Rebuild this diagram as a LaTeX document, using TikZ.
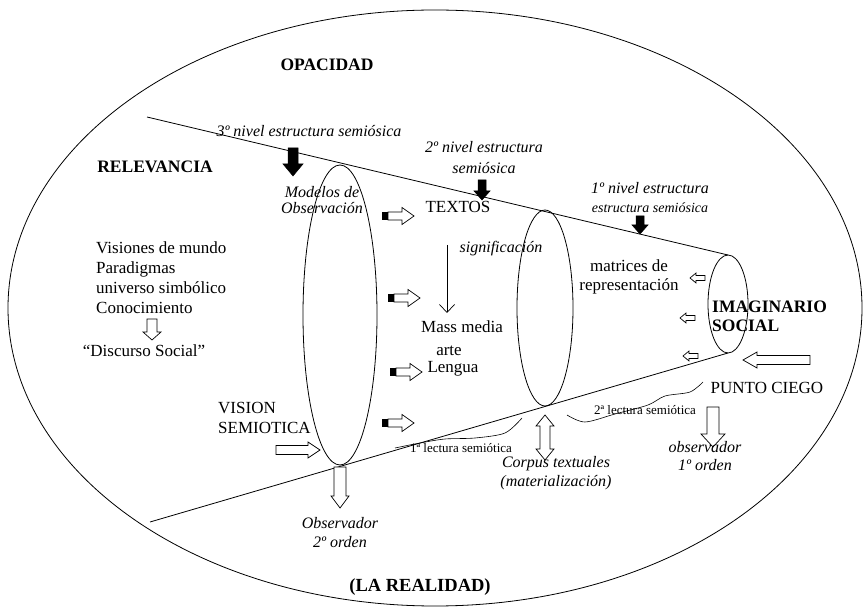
\documentclass[tikz,border=0pt]{standalone}
\usepackage{fontspec}
\setmainfont{Liberation Serif}
\usetikzlibrary{arrows.meta}
\begin{document}
\begin{tikzpicture}[x=1pt,y=-1pt,
  thinline/.style={line width=0.8pt},
  reg/.style={font=\fontsize{17}{20}\selectfont, inner sep=0pt},
  bld/.style={font=\bfseries\fontsize{17.5}{19}\selectfont, inner sep=0pt},
  ita/.style={font=\itshape\fontsize{16}{19}\selectfont, inner sep=0pt},
  sml/.style={font=\fontsize{13}{15}\selectfont, inner sep=0pt},
  whitearrow/.style={draw, fill=white, line width=0.7pt},
  blackarrow/.style={draw, fill=black, line width=0.5pt},
  pics/barrow/.style n args={4}{code={
    \path[pic actions] (0,-#2) -- ({#1-#4},-#2) -- ({#1-#4},-#3) -- (#1,0)
      -- ({#1-#4},#3) -- ({#1-#4},#2) -- (0,#2) -- cycle;}},
  pics/dbarrow/.style n args={4}{code={
    \path[pic actions] (0,0) -- (#4,-#3) -- (#4,-#2) -- ({#1-#4},-#2) -- ({#1-#4},-#3)
      -- (#1,0) -- ({#1-#4},#3) -- ({#1-#4},#2) -- (#4,#2) -- (#4,#3) -- cycle;}},
  pics/sarrow/.style={code={
    \fill[black] (0,-3.8) rectangle (6,3.8);
    \draw[whitearrow] (6,-4) -- (20,-4) -- (20,-8.5) -- (32,0) -- (20,8.5) -- (20,4) -- (6,4) -- cycle;}}
]
\useasboundingbox (0,0) rectangle (863,609);

% outer ellipse
\draw[thinline] (435,308) ellipse [x radius=427, y radius=298];

% cone
\coordinate (ul) at (147,117);
\coordinate (ur) at (728,255);
\coordinate (ll) at (150,522);
\coordinate (lr) at (728,353);
\draw[thinline] (ul) -- (ur);
\draw[thinline] (ll) -- (lr);
\draw[thinline] (340,315) ellipse [x radius=37, y radius=150];
\draw[thinline] (545,308) ellipse [x radius=28, y radius=98];
\draw[thinline] (728,304) ellipse [x radius=20, y radius=49];

% black arrows
\pic[blackarrow, rotate=-90] at (293,148) {barrow={28}{5}{10}{12}};
\pic[blackarrow, rotate=-90] at (482,180) {barrow={20}{4}{8}{9}};
\pic[blackarrow, rotate=-90] at (640,216) {barrow={18}{4}{8}{9}};

% white arrows
\pic[whitearrow, rotate=-90] at (152,319) {barrow={21}{5}{9}{8}};
\pic[whitearrow] at (276,450) {barrow={44}{4.5}{8}{12}};
\pic[whitearrow, rotate=-90] at (340,467) {barrow={41}{6}{9}{12}};
\pic[whitearrow, rotate=180] at (810,360) {barrow={67}{4.5}{8}{14}};
\pic[whitearrow, rotate=-90] at (713,407) {barrow={40}{6}{12}{13}};
\pic[whitearrow, rotate=-90] at (545,415) {dbarrow={45}{5}{9}{11}};
\pic[whitearrow, rotate=180] at (705,278) {barrow={15}{2.5}{5}{6}};
\pic[whitearrow, rotate=180] at (695,318) {barrow={15}{2.5}{5}{6}};
\pic[whitearrow, rotate=180] at (698,356) {barrow={15}{2.5}{5}{6}};

% striped arrows
\pic at (382,216) {sarrow};
\pic at (388,298) {sarrow};
\pic at (390,372) {sarrow};
\pic at (382,423) {sarrow};

% texts
\node[bld] (opac) at (327,65) {OPACIDAD};
\node[bld] (relev) at (155,167) {RELEVANCIA};
\node[ita] (n3) at (309,131) {3º nivel estructura semiósica};
\node[ita, align=center, font=\itshape\fontsize{16}{16}\selectfont] (modelos) at (322,200) {Modelos de\\Observación};
\node[reg] (textos) at (458,207) {TEXTOS};
\node[ita, align=center, font=\itshape\fontsize{16}{21}\selectfont] (n2) at (484,158) {2º nivel estructura\\semiósica};
\node[ita] (sig) at (501,249) {significación};
\node[reg] (mass) at (462,327) {Mass media};
\node[reg] (arte) at (449,351) {arte};
\node[reg] (lengua) at (453,369) {Lengua};
\node[ita, align=center] (n1) at (650,198) {1º nivel estructura\\{\fontsize{14}{19}\selectfont estructura semiósica}};
\node[reg, align=center, font=\fontsize{17}{19}\selectfont] (matrices) at (629,277) {matrices de\\representación};
\node[bld, align=left, anchor=west] (imag) at (712,316) {IMAGINARIO\\SOCIAL};
\node[reg, align=left, anchor=west, font=\fontsize{17}{20}\selectfont] (visiones) at (96,278) {Visiones de mundo\\Paradigmas\\universo simbólico\\Conocimiento};
\node[reg] (discurso) at (144,351) {“Discurso Social”};
\node[reg, align=left, anchor=west] (vision) at (218,418) {VISION\\SEMIOTICA};
\node[ita, align=center] (obs2) at (340,533) {Observador\\2º orden};
\node[bld, font=\bfseries\fontsize{18.5}{20}\selectfont] (real) at (420,587) {(LA REALIDAD)};
\node[sml] (lect1) at (461,448) {1ª lectura semiótica};
\node[sml] (lect2) at (645,410) {2ª lectura semiótica};
\node[reg] (punto) at (767,388) {PUNTO CIEGO};
\node[ita, align=center, font=\itshape\fontsize{16}{18}\selectfont] (obs1) at (705,456) {observador\\1º orden};
\node[ita, align=center] (corpus) at (556,473) {Corpus textuales\\(materialización)};

% significacion arrow
\coordinate (sigstart) at (447,245);
\coordinate (sigend) at (447,313);
\draw[line width=0.7pt, -{Straight Barb[length=8pt,width=15pt]}] (sigstart) -- (sigend);

% lectura curves
\draw[line width=0.6pt] plot[smooth] coordinates {(395,448) (420,443) (445,439) (475,438) (505,433) (522,418)};
\draw[line width=0.6pt] plot[smooth] coordinates {(567,415) (585,422) (615,414) (648,405) (665,396) (690,392) (703,382)};
\end{tikzpicture}
\end{document}
